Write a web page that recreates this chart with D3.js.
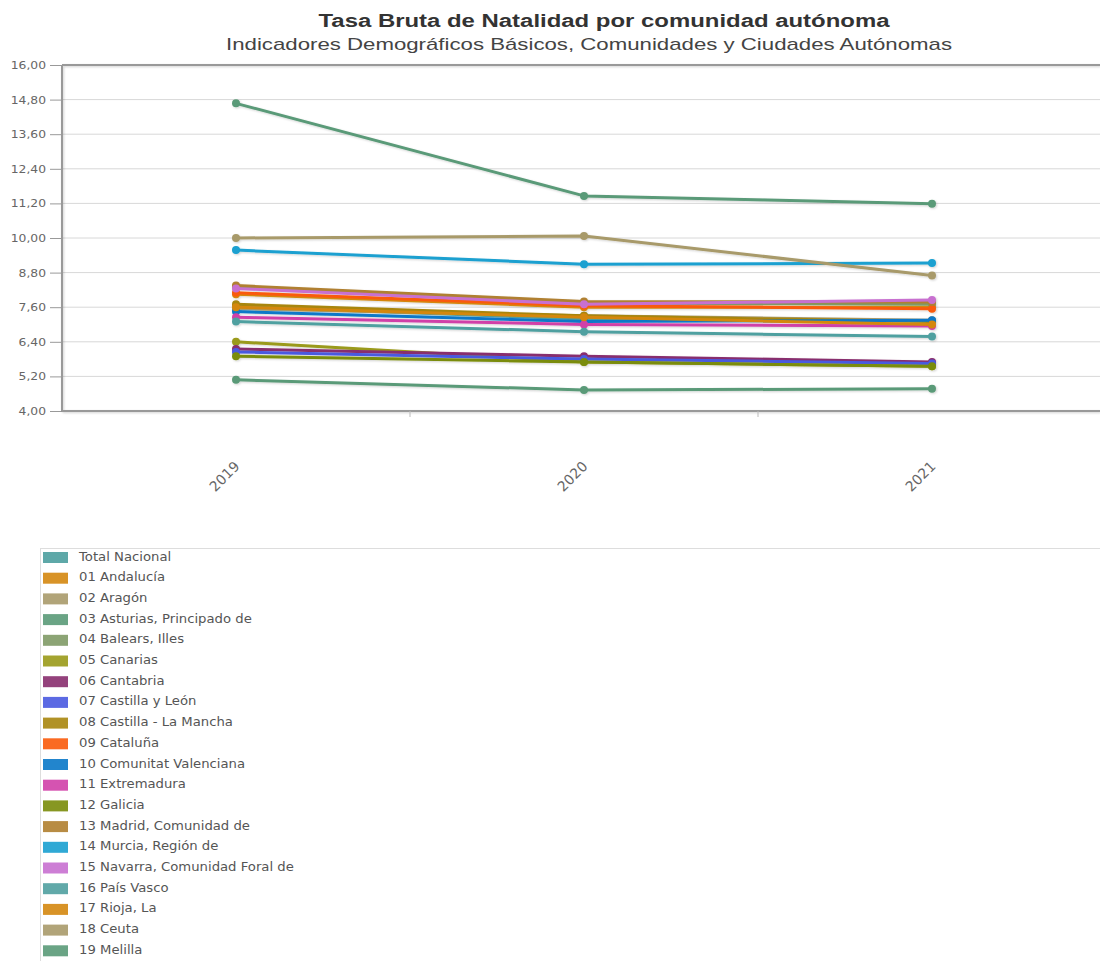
<!DOCTYPE html>
<html><head><meta charset="utf-8">
<script src="https://cdn.jsdelivr.net/npm/d3@7"></script>
<style>body{margin:0;background:#fff;} svg{display:block;}</style>
</head><body>
<svg id="c" width="1100" height="961"></svg>
<script>
const years = ["2019", "2020", "2021"];
const yTicks = [4.0, 5.2, 6.4, 7.6, 8.8, 10.0, 11.2, 12.4, 13.6, 14.8, 16.0];
const seriesNames = ["Total Nacional","01 Andalucía","02 Aragón","03 Asturias, Principado de","04 Balears, Illes","05 Canarias","06 Cantabria","07 Castilla y León","08 Castilla - La Mancha","09 Cataluña","10 Comunitat Valenciana","11 Extremadura","12 Galicia","13 Madrid, Comunidad de","14 Murcia, Región de","15 Navarra, Comunidad Foral de","16 País Vasco","17 Rioja, La","18 Ceuta","19 Melilla"];
const seriesColors = ["#4d9e9e","#d4870f","#a89a6a","#5a9a78","#7f9a66","#9a9a1a","#882d6e","#4a5ae0","#a8860e","#fa5a0a","#0a78c8","#d040a8","#7a8c0a","#b08030","#1aa0d0","#c870d0","#50a0a0","#d4870f","#a89a6a","#5a9a78"];
const v2019 = [7.62, 8.05, 7.55, 5.08, 8.30, 6.40, 6.15, 6.05, 7.70, 8.10, 7.45, 7.25, 5.90, 8.35, 9.58, 8.25, 7.10, 7.60, 10.00, 14.67];
const v2020 = [7.19, 7.60, 7.30, 4.73, 7.75, 5.70, 5.90, 5.80, 7.30, 7.65, 7.10, 7.00, 5.70, 7.80, 9.09, 7.70, 6.75, 7.25, 10.07, 11.46];
const v2021 = [7.12, 7.60, 7.15, 4.77, 7.70, 5.55, 5.70, 5.65, 7.10, 7.55, 7.15, 6.95, 5.55, 7.78, 9.13, 7.85, 6.58, 7.00, 8.70, 11.19];

const STRETCH = 1.12;
function stretch(sel) {
  sel.each(function() {
    const w = this.getComputedTextLength();
    this.setAttribute("textLength", w * STRETCH);
    this.setAttribute("lengthAdjust", "spacingAndGlyphs");
  });
}

const svg = d3.select("#c");
const x = d3.scaleBand().domain(years).range([62, 1106]).padding(0);
const y = d3.scaleLinear().domain([4, 16]).range([411, 65]);
const fmt = v => v.toFixed(2).replace(".", ",");

const defs = svg.append("defs");
const f = defs.append("filter").attr("id","sh").attr("x","-20%").attr("y","-20%").attr("width","140%").attr("height","140%");
f.append("feDropShadow").attr("dx",1).attr("dy",1).attr("stdDeviation",1).attr("flood-color","#000").attr("flood-opacity",0.18);

// titles
svg.append("text").attr("x", 604).attr("y", 27).attr("text-anchor","middle")
  .attr("font-family","Liberation Sans, Arial, sans-serif").attr("font-weight","bold").attr("font-size",18).attr("fill","#333")
  .attr("textLength", 571).attr("lengthAdjust","spacingAndGlyphs")
  .text("Tasa Bruta de Natalidad por comunidad autónoma");
svg.append("text").attr("x", 589).attr("y", 50).attr("text-anchor","middle")
  .attr("font-family","Liberation Sans, Arial, sans-serif").attr("font-size",17).attr("fill","#444")
  .attr("textLength", 726).attr("lengthAdjust","spacingAndGlyphs")
  .text("Indicadores Demográficos Básicos, Comunidades y Ciudades Autónomas");

// grid
svg.append("g").selectAll("line").data(yTicks.filter(t => t > 4 && t < 16)).join("line")
  .attr("x1", 62).attr("x2", 1100).attr("y1", d => y(d)).attr("y2", d => y(d))
  .attr("stroke", "#d8d8d8").attr("stroke-width", 1);

// y axis
const yAxis = d3.axisLeft(y).tickValues(yTicks).tickFormat(fmt).tickSize(12).tickPadding(4);
const gy = svg.append("g").attr("transform","translate(62,0)").call(yAxis);
gy.select(".domain").remove();
gy.selectAll(".tick line").attr("stroke","#999");
gy.selectAll(".tick text").attr("font-family","DejaVu Sans, Verdana, sans-serif").attr("font-size",11).attr("fill","#666").call(stretch);

// frame lines
const frame = svg.append("g").attr("filter","url(#sh)");
frame.append("line").attr("x1",62).attr("x2",1100).attr("y1",y(16)).attr("y2",y(16)).attr("stroke","#999").attr("stroke-width",2);
frame.append("line").attr("x1",62).attr("x2",62).attr("y1",y(16)).attr("y2",y(4)).attr("stroke","#999").attr("stroke-width",2);
frame.append("line").attr("x1",62).attr("x2",1100).attr("y1",y(4)).attr("y2",y(4)).attr("stroke","#999").attr("stroke-width",2);

// x ticks at band boundaries
svg.append("g").selectAll("line").data(years.slice(1)).join("line")
  .attr("x1", d => x(d)).attr("x2", d => x(d)).attr("y1", y(4)).attr("y2", y(4) + 6)
  .attr("stroke","#bbb").attr("stroke-width",1);

// x labels
svg.append("g").selectAll("text").data(years).join("text")
  .attr("transform", d => `translate(${x(d) + x.bandwidth()/2 - 11},${477}) rotate(-45)`)
  .attr("text-anchor","middle").attr("dominant-baseline","middle")
  .attr("font-family","DejaVu Sans, Verdana, sans-serif").attr("font-size",14).attr("fill","#666")
  .text(d => d);

// series
const series = seriesNames.map((n, i) => ({name: n, color: seriesColors[i], values: [v2019[i], v2020[i], v2021[i]]}));
const line = d3.line().x((d, j) => x(years[j]) + x.bandwidth()/2).y(d => y(d));
const gs = svg.append("g").attr("filter","url(#sh)");
series.forEach(s => {
  const g = gs.append("g");
  g.append("path").attr("d", line(s.values)).attr("fill","none").attr("stroke", s.color).attr("stroke-width",3).attr("stroke-linejoin","round");
  g.selectAll("circle").data(s.values).join("circle")
    .attr("cx", (d, j) => x(years[j]) + x.bandwidth()/2).attr("cy", d => y(d)).attr("r", 4).attr("fill", s.color);
});

// legend
const lg = svg.append("g");
lg.append("rect").attr("x", 40.5).attr("y", 548.5).attr("width", 1080).attr("height", 430).attr("fill","#fff").attr("stroke","#ddd");
const rows = lg.selectAll("g.item").data(series).join("g").attr("class","item")
  .attr("transform", (d, i) => `translate(0,${557 + i * 20.7})`);
rows.append("rect").attr("x", 43).attr("y", -5).attr("width", 25).attr("height", 11).attr("fill", d => d.color).attr("opacity",0.9);
rows.append("text").attr("x", 79).attr("y", 0).attr("dominant-baseline","middle")
  .attr("font-family","DejaVu Sans, Verdana, sans-serif").attr("font-size",11.8).attr("fill","#555")
  .text(d => d.name).call(stretch);
</script>
</body></html>
